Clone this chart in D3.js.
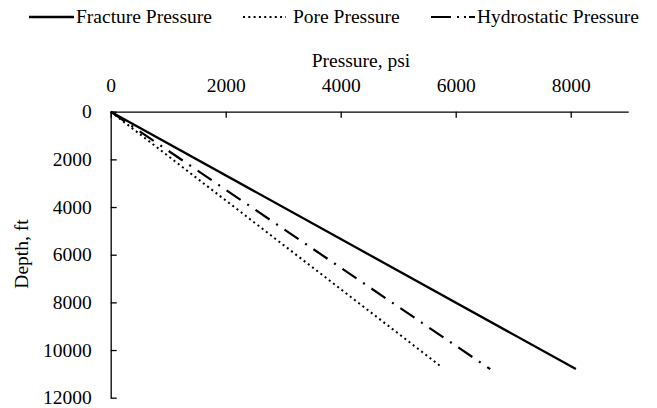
<!DOCTYPE html>
<html>
<head>
<meta charset="utf-8">
<script src="https://cdn.jsdelivr.net/npm/d3@7"></script>
<style>
  body { margin: 0; background: #fff; }
  svg { display: block; }
  text { font-family: "Liberation Serif", "Times New Roman", serif; fill: #000; }
</style>
</head>
<body>
<div id="chart"></div>
<script>
// ── Data ────────────────────────────────────────────────────────────────────
const seriesNames = ['Fracture Pressure', 'Pore Pressure', 'Hydrostatic Pressure'];
const fractureDepth    = [0, 10800];
const fracturePressure = [0, 8090];
const poreDepth        = [0, 10720];
const porePressure     = [0, 5760];
const hydroDepth       = [0, 10800];
const hydroPressure    = [0, 6600];
const xTicks = [0, 2000, 4000, 6000, 8000];
const yTicks = [0, 2000, 4000, 6000, 8000, 10000, 12000];

// ── Layout ──────────────────────────────────────────────────────────────────
const W = 657, H = 408;
const FONT = 19.5;

const svg = d3.select('#chart').append('svg')
  .attr('width', W).attr('height', H);

const x = d3.scaleLinear().domain([0, 9000]).range([110.7, 628.2]);
const y = d3.scaleLinear().domain([0, 12000]).range([111.7, 397.7]);

const toPts = (ds, ps) => ds.map((d, i) => ({ depth: d, p: ps[i] }));
const series = [
  { name: seriesNames[0], pts: toPts(fractureDepth, fracturePressure), dash: null,       w: 2.3 },
  { name: seriesNames[1], pts: toPts(poreDepth, porePressure),         dash: '2,3.3',    w: 2 },
  { name: seriesNames[2], pts: toPts(hydroDepth, hydroPressure),       dash: '17,8,2,8', w: 2.2 },
];

// ── Axes ────────────────────────────────────────────────────────────────────
const fmt = d3.format('d');

const gx = svg.append('g').attr('transform', `translate(0, ${y(0)})`)
  .call(d3.axisTop(x).tickValues(xTicks).tickFormat(fmt)
    .tickSizeInner(-6).tickSizeOuter(0).tickPadding(19.5));

const gy = svg.append('g').attr('transform', `translate(${x(0)}, 0)`)
  .call(d3.axisLeft(y).tickValues(yTicks).tickFormat(fmt)
    .tickSizeInner(-6).tickSizeOuter(0).tickPadding(19));

[gx, gy].forEach(g => {
  g.select('.domain').attr('stroke', '#000').attr('stroke-width', 1.3);
  g.selectAll('.tick line').attr('stroke', '#000').attr('stroke-width', 1.3);
  g.selectAll('.tick text')
    .attr('font-size', FONT).attr('fill', '#000')
    .attr('font-family', '"Liberation Serif", serif');
});

// Axis titles
svg.append('text')
  .attr('x', 361).attr('y', 67)
  .attr('text-anchor', 'middle').attr('font-size', FONT)
  .text('Pressure, psi');

svg.append('text')
  .attr('transform', `translate(27.5, 254) rotate(-90)`)
  .attr('text-anchor', 'middle').attr('font-size', FONT)
  .text('Depth, ft');

// ── Lines ───────────────────────────────────────────────────────────────────
const line = d3.line().x(d => x(d.p)).y(d => y(d.depth));

series.forEach(s => {
  svg.append('path')
    .datum(s.pts)
    .attr('d', line)
    .attr('fill', 'none')
    .attr('stroke', '#000')
    .attr('stroke-width', s.w)
    .attr('stroke-dasharray', s.dash);
});

// ── Legend ──────────────────────────────────────────────────────────────────
const legItems = [
  { x0: 29,  x1: 74,  tx: 76,  dash: null,                w: 2.3 },
  { x0: 243, x1: 286, tx: 293, dash: '2,3.3',             w: 2 },
  { x0: 431, x1: 475, tx: 477, dash: '20,6,2,5,2,3,7,50', w: 2.2 },
];
legItems.forEach((l, i) => {
  svg.append('line')
    .attr('x1', l.x0).attr('x2', l.x1).attr('y1', 17).attr('y2', 17)
    .attr('stroke', '#000').attr('stroke-width', l.w)
    .attr('stroke-dasharray', l.dash);
  svg.append('text')
    .attr('x', l.tx).attr('y', 23)
    .attr('font-size', FONT)
    .text(seriesNames[i]);
});
</script>
</body>
</html>
